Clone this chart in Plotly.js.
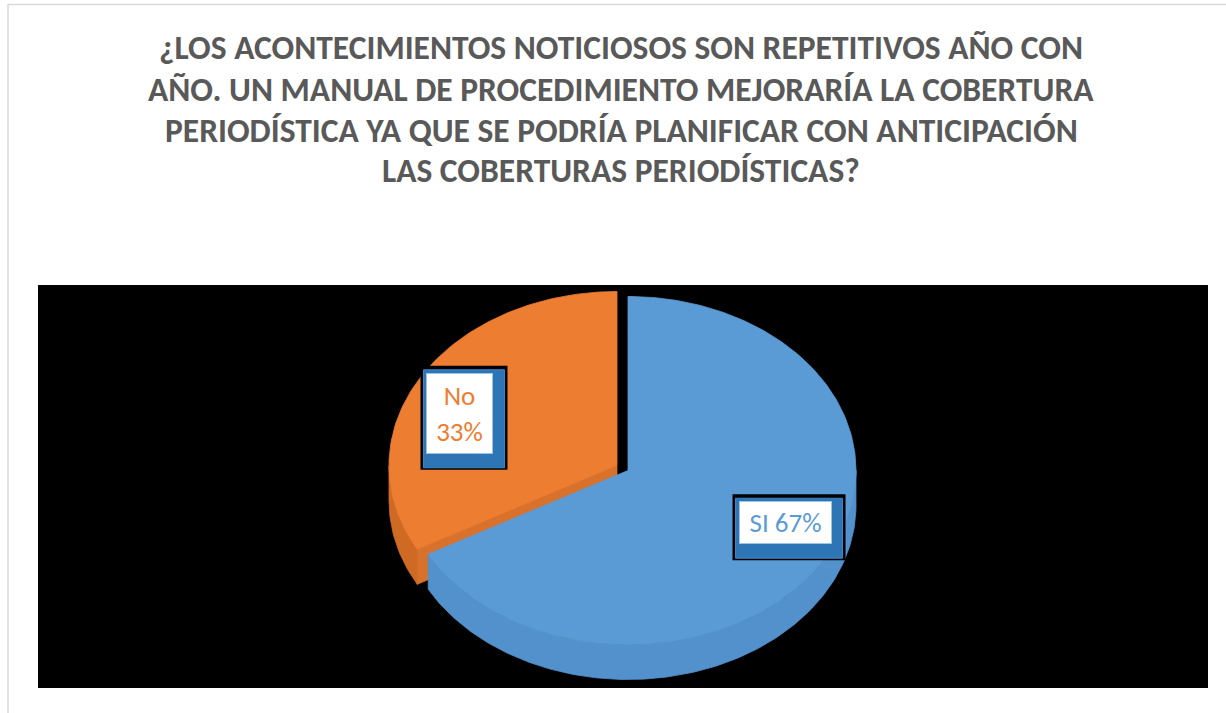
<!DOCTYPE html>
<html><head><meta charset="utf-8">
<script src="https://cdn.plot.ly/plotly-3.0.1.min.js"></script>
<style>html,body{margin:0;padding:0;background:#fff}#chart{width:1226px;height:713px}</style>
</head><body><div id="chart"></div>
<script>
// ---- data ----
const titleLines = [
  '¿LOS ACONTECIMIENTOS NOTICIOSOS SON REPETITIVOS AÑO CON',
  'AÑO. UN MANUAL DE PROCEDIMIENTO MEJORARÍA LA COBERTURA',
  'PERIODÍSTICA YA QUE SE PODRÍA PLANIFICAR CON ANTICIPACIÓN',
  'LAS COBERTURAS PERIODÍSTICAS?'
];
const categories = ['SI', 'No'];
const values = [67, 33];
const labelSeparators = [' ', '<br>'];

// ---- style / layout ----
const W = 1226, H = 713;
const PL = 38, PR = 1208, PT = 285, PB = 688;           // black plot area (px)
const topColors  = ['#5b9bd5', '#ed7d31'];
const wallColors = ['#5391cc', '#cf6a24'];
const cutColors  = ['#4f8bc4', '#d8712b'];
const textColors = ['#5b9bd5', '#ed7d31'];
const cx = 622.5, cy = 468, ra = 228, rb = 174, depth = 35, explode = 6.4;
const labelFx = 0.8, labelFy = 0.59;
const boxSizes = [ {w: 91, h: 41}, {w: 65, h: 79} ];
const titleYs = [48, 89, 130, 170];
const titleFont = "Carlito, 'Liberation Sans Narrow', 'DejaVu Sans Condensed', sans-serif";

const rad = d => d * Math.PI / 180;
const px2paperX = p => (p - PL) / (PR - PL);
const px2paperY = p => (PB - p) / (PB - PT);

const total = values.reduce((s, v) => s + v, 0);
let start = 0;
const slices = values.map((v, i) => {
  const sweep = 360 * v / total;
  const s = start, e = start + sweep;
  start = e;
  const m = (s + e) / 2;
  const ox = explode * Math.sin(rad(m));
  const oy = -explode * (rb / ra) * Math.cos(rad(m));
  return {i, s, e, m, c: [cx + ox, cy + oy]};
});

function rim(sl, th, dz) {
  return [sl.c[0] + ra * Math.sin(rad(th)), sl.c[1] - rb * Math.cos(rad(th)) + (dz || 0)];
}
function arc(sl, a0, a1, dz) {
  const pts = [];
  const n = Math.max(2, Math.ceil(Math.abs(a1 - a0)));
  for (let k = 0; k <= n; k++) pts.push(rim(sl, a0 + (a1 - a0) * k / n, dz));
  return pts;
}
function poly(pts, color, name, lineColor) {
  return {
    type: 'scatter', mode: 'lines', fill: 'toself',
    x: pts.map(p => p[0]), y: pts.map(p => p[1]),
    fillcolor: color, line: {color: lineColor || color, width: 0.8},
    hoverinfo: 'skip', showlegend: false, name: name
  };
}

const traces = [];
const order = slices.slice().sort((p, q) => (-Math.cos(rad(p.m))) - (-Math.cos(rad(q.m))));
order.forEach(sl => {
  const name = categories[sl.i];
  // outer wall (front half 90..270)
  const lo = Math.max(sl.s, 90), hi = Math.min(sl.e, 270);
  if (hi > lo) {
    const topArc = arc(sl, lo, hi, 0);
    const botArc = arc(sl, hi, lo, depth);
    traces.push(poly(topArc.concat(botArc, [topArc[0]]), wallColors[sl.i], name));
  }
  // radial cut faces
  [[sl.s, sl.s - 90], [sl.e, sl.e + 90]].forEach(([th, nrm]) => {
    if (Math.cos(rad(nrm)) < -1e-6) {
      const r0 = rim(sl, th, 0), r1 = rim(sl, th, depth);
      const c0 = sl.c, c1 = [sl.c[0], sl.c[1] + depth];
      traces.push(poly([c0, r0, r1, c1, c0], cutColors[sl.i], name));
    }
  });
  // top face
  const pts = [sl.c].concat(arc(sl, sl.s, sl.e, 0), [sl.c]);
  traces.push(poly(pts, topColors[sl.i], name));
});

// labels
const annotations = [];
const shapes = [];
shapes.push({type: 'rect', xref: 'paper', yref: 'paper',
  x0: px2paperX(8), x1: px2paperX(1240), y0: px2paperY(740), y1: px2paperY(4.5),
  line: {color: '#d9d9d9', width: 1.5}, fillcolor: 'rgba(0,0,0,0)', layer: 'below'});

titleLines.forEach((t, k) => {
  annotations.push({xref: 'paper', yref: 'paper', x: px2paperX(621), y: px2paperY(titleYs[k]),
    xanchor: 'center', yanchor: 'middle', showarrow: false, text: '<b>' + t + '</b>',
    font: {family: titleFont, size: 33.5, color: '#595959'}});
});

slices.forEach(sl => {
  const lx = sl.c[0] + labelFx * ra * Math.sin(rad(sl.m));
  const ly = sl.c[1] - labelFy * rb * Math.cos(rad(sl.m));
  const bw = boxSizes[sl.i].w, bh = boxSizes[sl.i].h;
  shapes.push({type: 'rect', xref: 'x', yref: 'y', layer: 'above',
    x0: lx - bw / 2 - 7, x1: lx + bw / 2 + 15, y0: ly - bh / 2 - 8, y1: ly + bh / 2 + 17,
    fillcolor: '#000000', line: {width: 0}});
  shapes.push({type: 'rect', xref: 'x', yref: 'y', layer: 'above',
    x0: lx - bw / 2 - 4, x1: lx + bw / 2 + 12, y0: ly - bh / 2 - 4, y1: ly + bh / 2 + 15,
    fillcolor: '#2e75b6', line: {color: '#3d86c8', width: 1}});
  annotations.push({xref: 'x', yref: 'y', x: lx, y: ly, xanchor: 'center', yanchor: 'middle',
    showarrow: false, text: categories[sl.i] + labelSeparators[sl.i] + values[sl.i] + '%',
    width: bw, height: bh, align: 'center', valign: 'middle',
    bgcolor: '#ffffff', bordercolor: '#9dc3e6', borderwidth: 1, borderpad: 0,
    font: {family: "Carlito, 'Liberation Sans', sans-serif", size: 27, color: textColors[sl.i]}});
});

const layout = {
  width: W, height: H,
  margin: {l: PL, r: W - PR, t: PT, b: H - PB, pad: 0},
  paper_bgcolor: '#ffffff', plot_bgcolor: '#000000',
  xaxis: {range: [PL, PR], visible: false, fixedrange: true},
  yaxis: {range: [PB, PT], visible: false, fixedrange: true},
  showlegend: false, hovermode: false,
  annotations: annotations, shapes: shapes
};
Plotly.newPlot('chart', traces, layout, {displayModeBar: false, staticPlot: true});
</script></body></html>
